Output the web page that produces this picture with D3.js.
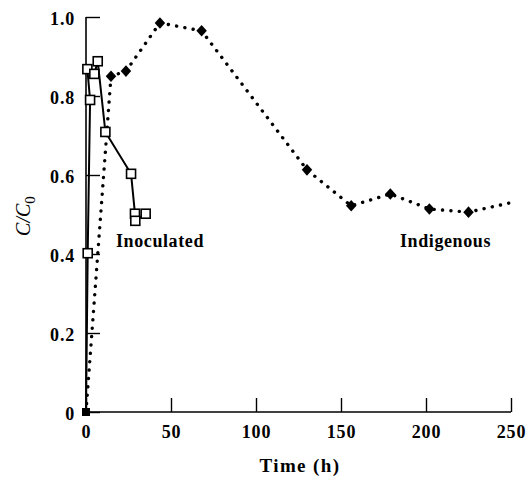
<!DOCTYPE html>
<html><head><meta charset="utf-8">
<script src="https://cdn.jsdelivr.net/npm/d3@7"></script>
<style>body{margin:0;background:#fff}svg{display:block}text{font-family:"Liberation Serif","Times New Roman",serif;fill:#000}</style>
</head><body><svg id="c" width="532" height="478"></svg>
<script>
const xTicks = [0, 50, 100, 150, 200, 250];
const yTicks = [0, 0.2, 0.4, 0.6, 0.8, 1.0];
const yTickLabels = ["0", "0.2", "0.4", "0.6", "0.8", "1.0"];
// Indigenous (filled diamonds, dotted line)
const indigTime = [0, 14.7, 23.5, 43.5, 68, 130, 156, 179, 202, 225, 249];
const indigC = [0, 0.85, 0.863, 0.985, 0.965, 0.613, 0.522, 0.552, 0.514, 0.506, 0.529];
const indigMarker = [false, true, true, true, true, true, true, true, true, true, false];
// Inoculated (open squares, solid line)
const inocTime = [0, 1.0, 2.4, 0.8, 4.9, 6.9, 11.4, 26.5, 28.8, 29.0, 35.1];
const inocC = [0, 0.402, 0.79, 0.868, 0.856, 0.888, 0.709, 0.603, 0.502, 0.484, 0.502];
const inocMarker = [false, true, true, true, true, true, true, true, true, true, true];

const svg = d3.select("#c");
const x = d3.scaleLinear().domain([0, 250]).range([86, 511]);
const y = d3.scaleLinear().domain([0, 1]).range([412, 17]);

// axes
const xAxis = svg.append("g").attr("transform", "translate(0,412)")
  .call(d3.axisBottom(x).tickValues(xTicks).tickSize(-14).tickFormat(d3.format("d")));
const yAxis = svg.append("g").attr("transform", "translate(86,0)")
  .call(d3.axisLeft(y).tickValues(yTicks).tickSize(-14).tickFormat((d,i)=>yTickLabels[i]));
[xAxis, yAxis].forEach(a => {
  a.select(".domain").attr("stroke", "#000").attr("stroke-width", 1.6);
  a.selectAll(".tick line").attr("stroke", "#000").attr("stroke-width", 1.4);
  a.selectAll(".tick text").attr("fill", "#000").style("font-size", "18px").style("font-weight", "bold")
    .style("letter-spacing", "0.8px")
    .style("font-family", "'Liberation Serif',serif");
});
xAxis.select(".domain").attr("d", "M86,0H511");
yAxis.select(".domain").attr("d", "M0,412V17");
yAxis.selectAll(".tick text").attr("text-anchor", "end").attr("x", -11).attr("dy", "0.4em");
xAxis.selectAll(".tick text").attr("y", 13);

// indigenous line
const lineI = d3.line().x(i => x(indigTime[i])).y(i => y(indigC[i]));
svg.append("path").attr("d", lineI(d3.range(indigTime.length)))
  .attr("fill", "none").attr("stroke", "#000").attr("stroke-width", 3.4)
  .attr("stroke-linecap", "round").attr("stroke-dasharray", "0.1 8.3");

// inoculated line
const lineO = d3.line().x(i => x(inocTime[i])).y(i => y(inocC[i]));
svg.append("path").attr("d", lineO(d3.range(inocTime.length)))
  .attr("fill", "none").attr("stroke", "#000").attr("stroke-width", 2);

// markers
svg.append("rect").attr("x", x(0) - 4).attr("y", y(0) - 4).attr("width", 8).attr("height", 8).attr("fill", "#000");
const diamond = d3.symbol().type(d3.symbolDiamond2).size(70);
svg.append("g").selectAll("path").data(d3.range(indigTime.length).filter(i => indigMarker[i])).join("path")
  .attr("d", diamond).attr("transform", i => `translate(${x(indigTime[i])},${y(indigC[i])}) scale(1,1.1)`)
  .attr("fill", "#000");
svg.append("g").selectAll("rect").data(d3.range(inocTime.length).filter(i => inocMarker[i])).join("rect")
  .attr("x", i => x(inocTime[i]) - 4.5).attr("y", i => y(inocC[i]) - 4.5)
  .attr("width", 9).attr("height", 9).attr("fill", "#fff").attr("stroke", "#000").attr("stroke-width", 1.6);

// labels
svg.append("text").attr("x", 116).attr("y", 247).attr("fill", "#000").style("font-size", "18px").style("font-weight", "bold").style("letter-spacing", "0.6px").text("Inoculated");
svg.append("text").attr("x", 400).attr("y", 247).attr("fill", "#000").style("font-size", "18px").style("font-weight", "bold").style("letter-spacing", "0.6px").text("Indigenous");
svg.append("text").attr("x", 300).attr("y", 472).attr("fill", "#000").attr("text-anchor", "middle").style("font-size", "19px").style("font-weight", "bold").style("letter-spacing", "1.4px").text("Time (h)");
const yl = svg.append("text").attr("transform", "translate(30,216) rotate(-90)").attr("fill", "#000").attr("text-anchor", "middle").style("font-size", "20px");
yl.append("tspan").attr("fill", "#000").style("font-style", "italic").text("C/C");
yl.append("tspan").attr("fill", "#000").attr("dy", 5).style("font-size", "15px").text("0");
</script></body></html>
